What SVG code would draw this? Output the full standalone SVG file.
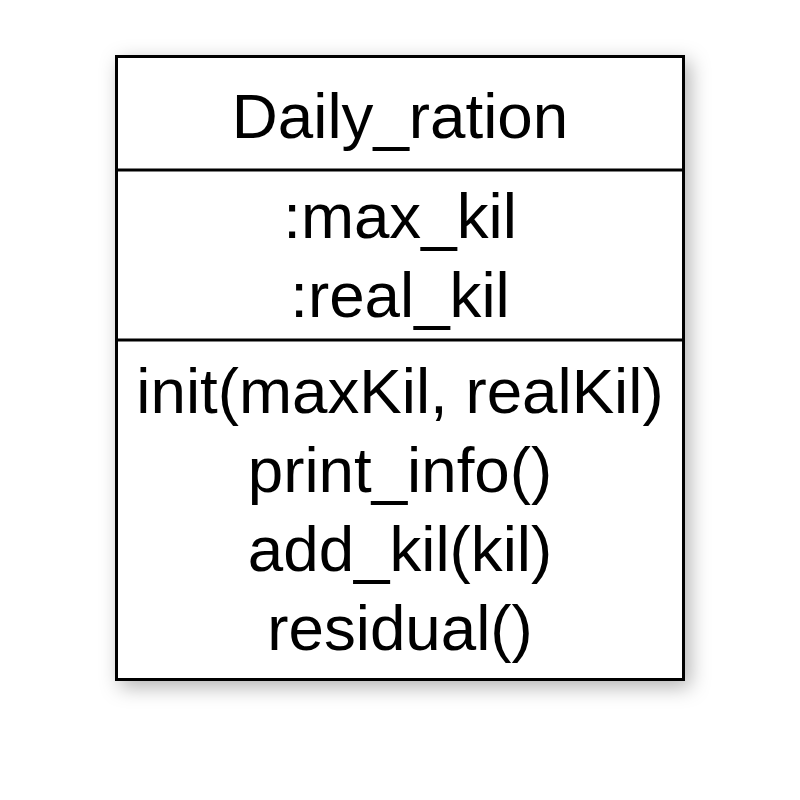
<svg xmlns="http://www.w3.org/2000/svg" width="800" height="800" viewBox="0 0 800 800">
  <defs>
    <filter id="shadow" x="-20%" y="-20%" width="140%" height="140%">
      <feDropShadow dx="5" dy="6" stdDeviation="10" flood-color="#000" flood-opacity="0.3"/>
    </filter>
    <style>
      .t { font-family: "Liberation Sans", Arial, Helvetica, sans-serif; font-size: 63.7px; fill: #000; text-anchor: middle; }
      .box { fill: #fff; stroke: #000; stroke-width: 3; }
      .div { stroke: #000; stroke-width: 3; }
    </style>
  </defs>
  <rect width="800" height="800" fill="#fff"/>
  <g id="Daily_ration">
    <rect class="box" x="116.5" y="56.5" width="567" height="623" filter="url(#shadow)"/>
    <line class="div" x1="116.5" y1="170" x2="683.5" y2="170"/>
    <line class="div" x1="116.5" y1="340" x2="683.5" y2="340"/>
    <text class="t" x="400" y="138">Daily_ration</text>
    <text class="t" x="400" y="238">:max_kil</text>
    <text class="t" x="400" y="317">:real_kil</text>
    <text class="t" x="400" y="413">init(maxKil, realKil)</text>
    <text class="t" x="400" y="492">print_info()</text>
    <text class="t" x="400" y="571">add_kil(kil)</text>
    <text class="t" x="400" y="650">residual()</text>
  </g>
  <g id="connectors"/>
</svg>
